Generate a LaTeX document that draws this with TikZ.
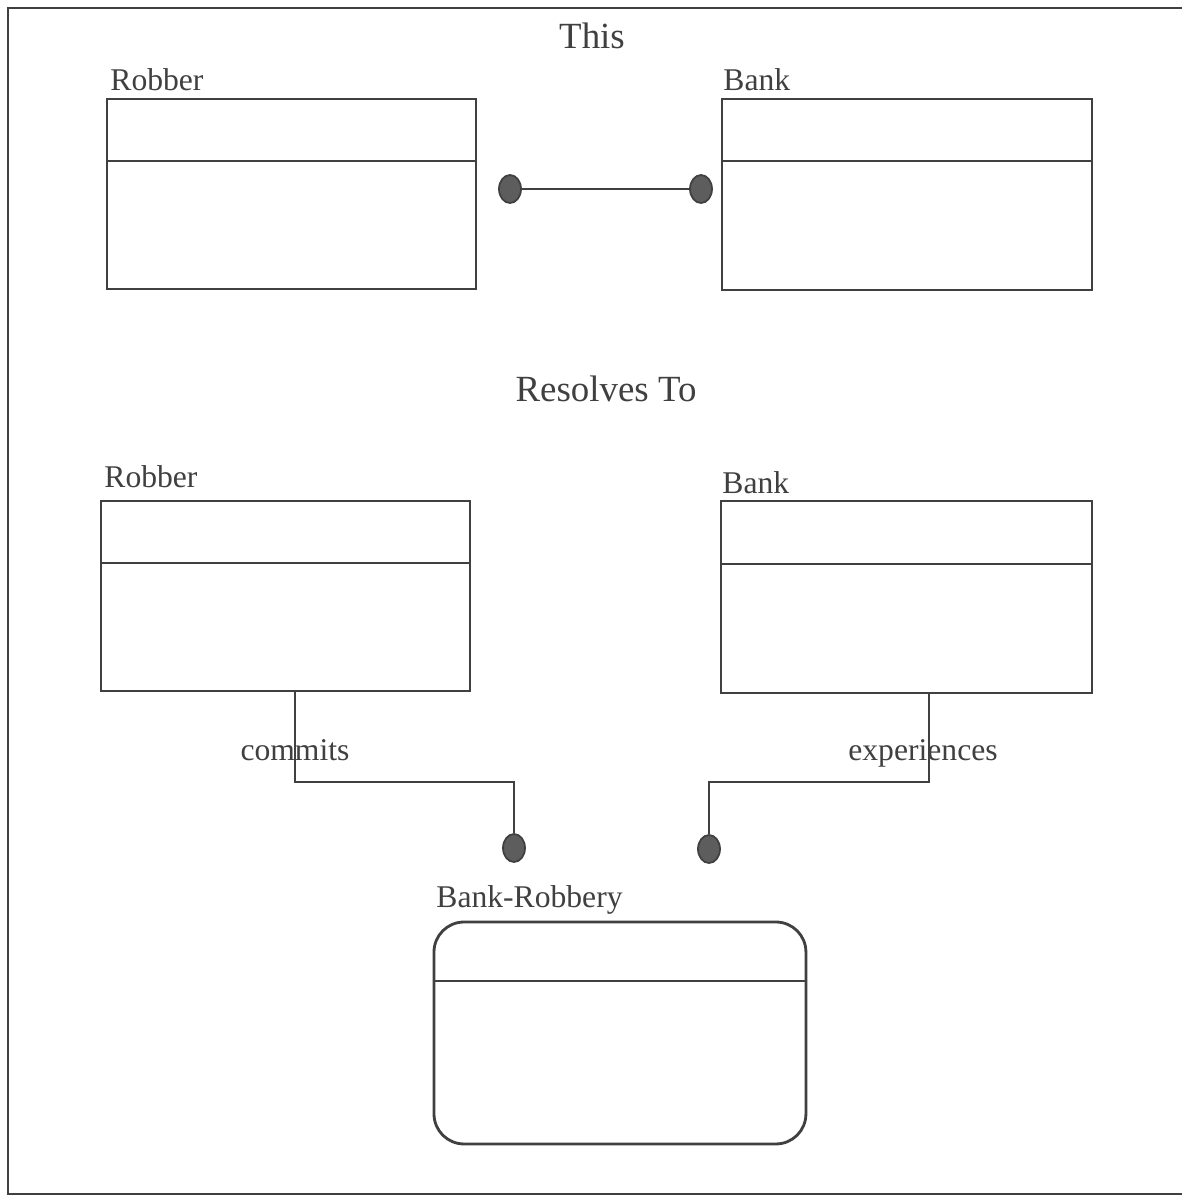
\documentclass[tikz,border=0pt]{standalone}
\usepackage{fontspec}
\setmainfont{Liberation Serif}
\usetikzlibrary{shapes.geometric}
\definecolor{ink}{HTML}{404040}
\begin{document}
\begin{tikzpicture}[x=0.02cm,y=-0.02cm,line width=1.6pt,color=ink,
    cls/.style={draw,rectangle,anchor=north west,inner sep=0pt,outer sep=0pt},
    lbl/.style={font=\fontsize{18}{20}\selectfont,inner sep=0pt},
    hdr/.style={font=\fontsize{21}{24}\selectfont,inner sep=0pt},
    dot/.style={draw,ellipse,fill=ink!85,line width=1pt,minimum width=0.44cm,minimum height=0.56cm,inner sep=0pt}]
  \useasboundingbox[fill=white] (0,0) rectangle (1182,1197);
  \draw (1182,8) -- (8,8) -- (8,1194) -- (1182,1194);
  \node[hdr] (T1) at (592,36) {This};
  \node[hdr] (T2) at (606,389) {Resolves To};
  \foreach \n/\x/\y/\w/\h/\d/\t/\g/\s in {R1/107/99/369/190/62/Robber/9/2, B1/722/99/370/191/62/Bank/9/0, R2/101/501/369/190/62/Robber/14/2, B2/721/501/371/192/63/Bank/8/0}{
    \node[cls,minimum width=\w*0.02cm,minimum height=\h*0.02cm] (\n) at (\x,\y) {};
    \draw (\n.north west) ++(0,\d) -- ++(\w,0);
    \node[lbl,anchor=base west] (\n-t) at ([shift={(\s,-\g)}]\n.north west) {\t};
  }
  \node[cls,rounded corners=0.6cm,minimum width=7.44cm,minimum height=4.44cm] (BR) at (434,922) {};
  \draw (BR.north west) ++(0,59) -- ++(372,0);
  \node[lbl,anchor=base west] (BR-t) at ([shift={(1,-15)}]BR.north west) {Bank-Robbery};
  \foreach \n/\x/\y in {d1/510/189, d2/701/189, d3/514/848, d4/709/849}{
    \node[dot] (\n) at (\x,\y) {};
  }
  \draw (d1) -- (d2);
  \draw (R2.south west) ++(194,0) -- node[lbl,pos=0.65]{commits} ++(0,91) -| (d3);
  \draw (B2.south west) ++(208,0) -- node[lbl,pos=0.68,xshift=-0.12cm]{experiences} ++(0,89) -| (d4);
\end{tikzpicture}
\end{document}
